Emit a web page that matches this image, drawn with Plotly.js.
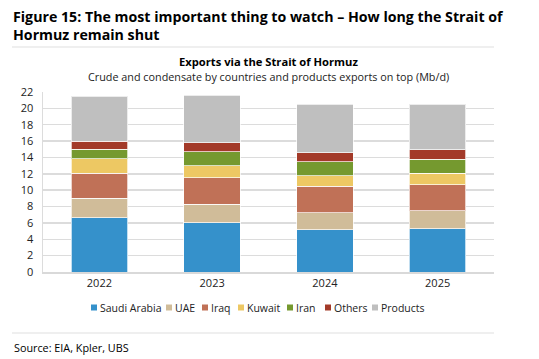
<!DOCTYPE html>
<html>
<head>
<meta charset="utf-8">
<script src="https://cdn.plot.ly/plotly-3.0.1.min.js"></script>
<style>
html,body{margin:0;padding:0;background:#fff;}
#chart{width:539px;height:359px;}
</style>
</head>
<body>
<div id="chart"></div>
<script>
// Data (Mb/d)
const years = ['2022', '2023', '2024', '2025'];
const seriesNames = ['Saudi Arabia', 'UAE', 'Iraq', 'Kuwait', 'Iran', 'Others', 'Products'];
const saudiArabia = [6.65, 6.0, 5.15, 5.3];
const uae = [2.35, 2.3, 2.07, 2.17];
const iraq = [3.1, 3.2, 3.28, 3.2];
const kuwait = [1.75, 1.5, 1.27, 1.43];
const iran = [1.13, 1.7, 1.73, 1.7];
const others = [1.02, 1.1, 1.07, 1.13];
const products = [5.5, 5.8, 5.93, 5.57];
const yTicks = [0, 2, 4, 6, 8, 10, 12, 14, 16, 18, 20, 22];

const seriesValues = [saudiArabia, uae, iraq, kuwait, iran, others, products];
const colors = ['#3591CB', '#D0BC99', '#C07157', '#EDC863', '#75992F', '#A33A29', '#BFBFBF'];

const FONT = 'Open Sans, Noto Sans, sans-serif';
const W = 539, H = 359;
const M = {l: 43, r: 45, t: 92, b: 87};
const PW = W - M.l - M.r, PH = H - M.t - M.b;
const px = v => (v - M.l) / PW;
const py = v => (H - M.b - v) / PH;

const traces = seriesNames.map((name, i) => ({
  type: 'bar',
  name: name,
  x: years,
  y: seriesValues[i],
  marker: {color: colors[i], line: {color: 'rgba(255,255,255,0.7)', width: 1}},
  showlegend: false,
  hoverinfo: 'skip'
}));

const shapes = [
  {type: 'line', xref: 'paper', yref: 'paper', x0: px(12), x1: px(494), y0: py(47), y1: py(47), line: {color: '#efefef', width: 2}},
  {type: 'line', xref: 'paper', yref: 'paper', x0: px(12), x1: px(494), y0: py(333), y1: py(333), line: {color: '#efefef', width: 2}}
];

const annotations = [
  {xref: 'paper', yref: 'paper', x: px(11), y: py(5), xanchor: 'left', yanchor: 'top', align: 'left', showarrow: false,
   text: '<b>Figure 15: The most important thing to watch – How long the Strait of<br>Hormuz remain shut</b>',
   font: {family: FONT, size: 14.2, color: '#000'}},
  {xref: 'paper', yref: 'paper', x: 0.5, y: py(62), xanchor: 'center', yanchor: 'middle', showarrow: false,
   text: '<b>Exports via the Strait of Hormuz</b>', font: {family: FONT, size: 11.2, color: '#000'}},
  {xref: 'paper', yref: 'paper', x: 0.5, y: py(76), xanchor: 'center', yanchor: 'middle', showarrow: false,
   text: 'Crude and condensate by countries and products exports on top (Mb/d)', font: {family: FONT, size: 10.8, color: '#222'}},
  {xref: 'paper', yref: 'paper', x: px(12), y: py(347), xanchor: 'left', yanchor: 'middle', showarrow: false,
   text: 'Source: EIA, Kpler, UBS', font: {family: FONT, size: 10.8, color: '#000'}}
];

// Legend (custom, compact squares)
const legendSquareX = [91, 166, 202, 238, 287, 325, 372];
const legendY = 307.5;
seriesNames.forEach((name, i) => {
  const x0 = legendSquareX[i];
  shapes.push({type: 'rect', xref: 'paper', yref: 'paper', x0: px(x0), x1: px(x0 + 6), y0: py(legendY + 3), y1: py(legendY - 3),
    fillcolor: colors[i], line: {width: 0}});
  annotations.push({xref: 'paper', yref: 'paper', x: px(x0 + 7), y: py(legendY), xanchor: 'left', yanchor: 'middle', showarrow: false,
    text: name, font: {family: FONT, size: 10.5, color: '#222'}});
});

const layout = {
  width: W, height: H,
  margin: M,
  barmode: 'stack',
  bargap: 0.5,
  paper_bgcolor: '#fff',
  plot_bgcolor: '#fff',
  font: {family: FONT, size: 11, color: '#222'},
  xaxis: {
    type: 'category',
    showgrid: false,
    showline: true, linecolor: '#d9d9d9', linewidth: 1.5,
    ticks: '',
    tickfont: {family: FONT, size: 11, color: '#222'},
    ticklabelstandoff: 0,
    fixedrange: true
  },
  yaxis: {
    range: [0, 22],
    tickvals: yTicks,
    ticktext: yTicks.map(String),
    showgrid: true, gridcolor: '#dcdcdc', gridwidth: 1.5,
    showline: true, linecolor: '#dcdcdc', linewidth: 1.5,
    zeroline: false,
    ticks: '',
    tickfont: {family: FONT, size: 11, color: '#222'},
    ticklabelstandoff: 6,
    fixedrange: true
  },
  shapes: shapes,
  annotations: annotations
};

Plotly.newPlot('chart', traces, layout, {displayModeBar: false, staticPlot: true});
</script>
</body>
</html>
